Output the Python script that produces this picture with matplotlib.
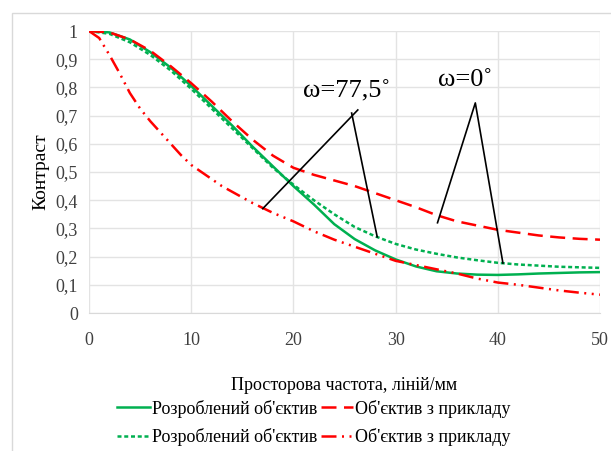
import matplotlib
matplotlib.use("Agg")
import matplotlib.pyplot as plt
from matplotlib.patches import Rectangle

plt.rcParams['font.family'] = ['Liberation Serif', 'DejaVu Serif']

# Data
freq = [0, 2, 4, 6, 8, 10, 12, 14, 16, 18, 20, 22, 24, 26, 28, 30,
        32, 34, 36, 38, 40, 42, 44, 46, 48, 50]
dev_0 = [1.0, 0.995, 0.97, 0.925, 0.87, 0.805, 0.735, 0.665, 0.59, 0.52, 0.45,
         0.385, 0.315, 0.262, 0.222, 0.19, 0.165, 0.148, 0.14, 0.136, 0.135,
         0.137, 0.14, 0.142, 0.144, 0.145]
dev_77 = [1.0, 0.99, 0.96, 0.915, 0.86, 0.795, 0.725, 0.655, 0.585, 0.515, 0.455,
          0.40, 0.35, 0.305, 0.272, 0.245, 0.225, 0.21, 0.197, 0.187, 0.178,
          0.172, 0.168, 0.164, 0.162, 0.16]
ex_0 = [1.0, 0.995, 0.97, 0.93, 0.875, 0.815, 0.75, 0.68, 0.615, 0.558, 0.515,
        0.49, 0.47, 0.45, 0.425, 0.40, 0.375, 0.347, 0.325, 0.31, 0.295,
        0.285, 0.275, 0.268, 0.263, 0.26]
freq_ex77 = [0, 1, 2, 3, 4, 5, 6, 7, 8, 9, 10, 11, 12, 13, 14, 16, 18, 20, 22,
             24, 26, 28, 30, 32, 34, 36, 38, 40, 42, 44, 46, 48, 50]
ex_77 = [1.0, 0.975, 0.915, 0.85, 0.78, 0.725, 0.68, 0.64, 0.6, 0.56, 0.525,
         0.5, 0.475, 0.45, 0.43, 0.39, 0.355, 0.325, 0.29, 0.26, 0.235, 0.21,
         0.185, 0.17, 0.155, 0.14, 0.122, 0.108, 0.1, 0.09, 0.08, 0.072, 0.065]

GREEN = '#00B050'
RED = '#FF0000'

fig = plt.figure(figsize=(6.11, 4.51), dpi=100)
fig.patches.append(Rectangle((12 / 611, -0.1), 1.2, 1 - 13 / 451 + 0.1,
                             transform=fig.transFigure, fill=False,
                             edgecolor='#d9d9d9', lw=1.0))
ax = fig.add_axes([89 / 611, 138 / 451, 511 / 611, 282 / 451])

l1, = ax.plot(freq, dev_0, color=GREEN, lw=1.8, label="Розроблений об'єктив")
l2, = ax.plot(freq, dev_77, color=GREEN, lw=1.8, dashes=(1.6, 1.1),
              label="Розроблений об'єктив")
l3, = ax.plot(freq, ex_0, color=RED, lw=1.8, dashes=(6, 3),
              label="Об'єктив з прикладу")
l4, = ax.plot(freq_ex77, ex_77, color=RED, lw=1.8,
              dashes=(6, 2.2, 0.8, 2.2, 0.8, 2.2),
              label="Об'єктив з прикладу")

# annotation leaders
ax.plot([17.0, 26.3], [0.37, 0.72], color='black', lw=1.2)
ax.plot([25.7, 28.2], [0.709, 0.27], color='black', lw=1.2)
ax.plot([34.1, 37.8, 40.5], [0.32, 0.745, 0.177], color='black', lw=1.2)
ax.text(25.2, 0.785, 'ω=77,5˚', fontsize=19, ha='center', va='center')
ax.text(36.8, 0.825, 'ω=0˚', fontsize=19, ha='center', va='center')

ax.set_xlim(0, 50)
ax.set_ylim(0, 1)
ax.set_xticks(range(0, 51, 10))
ax.set_yticks([i / 10 for i in range(11)])
ax.set_yticklabels(['0', '0,1', '0,2', '0,3', '0,4', '0,5', '0,6', '0,7',
                    '0,8', '0,9', '1'])
ax.grid(True, color='#e3e3e3', lw=1.0)
ax.set_axisbelow(True)
for s in ['top', 'right', 'left']:
    ax.spines[s].set_visible(False)
ax.spines['bottom'].set_color('#d9d9d9')
ax.tick_params(length=0, labelsize=13, colors='#404040', pad=8)
ax.tick_params(axis='x', pad=14)

ax.set_xlabel('Просторова частота, ліній/мм', fontsize=13, labelpad=20)
ax.set_ylabel('Контраст', fontsize=14, labelpad=4)

fig.legend(handles=[l1, l2, l3, l4], ncol=2, loc='center',
           bbox_to_anchor=(314 / 611, 1 - 423 / 451), frameon=False,
           fontsize=13, handlelength=1.8, handletextpad=0.1,
           columnspacing=0.2, labelspacing=0.6)

fig.savefig('out.png', dpi=100)
